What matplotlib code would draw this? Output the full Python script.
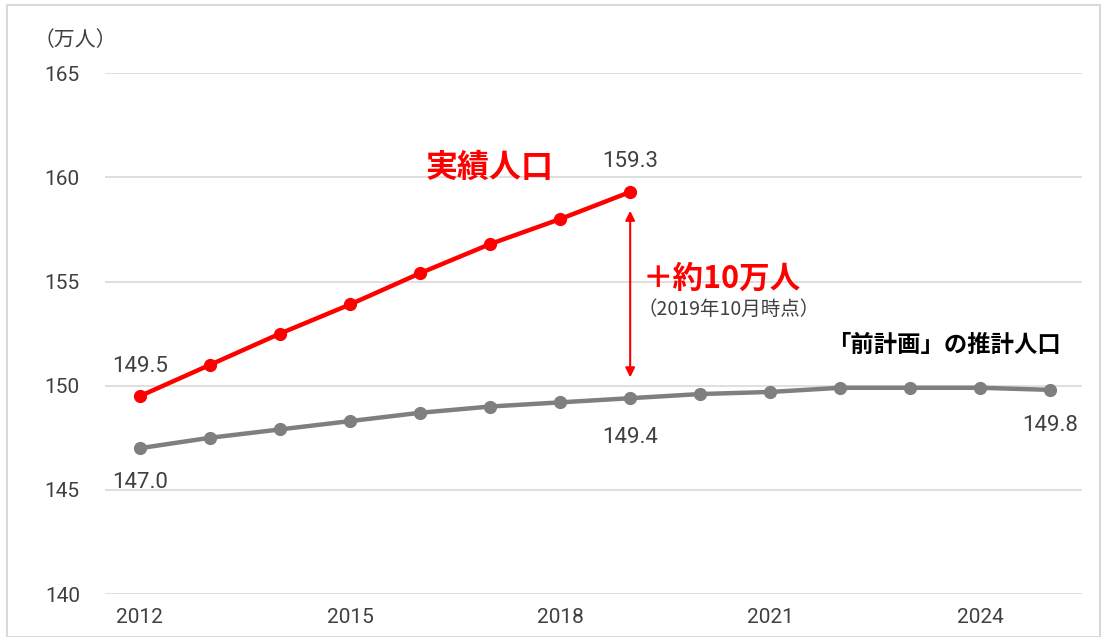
import matplotlib
matplotlib.use("Agg")
import matplotlib.pyplot as plt
from matplotlib.patches import Rectangle

plt.rcParams['font.family'] = ['Noto Sans CJK JP', 'DejaVu Sans']

years_actual = [2012, 2013, 2014, 2015, 2016, 2017, 2018, 2019]
actual = [149.5, 151.0, 152.5, 153.9, 155.4, 156.8, 158.0, 159.3]

years_plan = list(range(2012, 2026))
plan = [147.0, 147.5, 147.9, 148.3, 148.7, 149.0, 149.2, 149.4,
        149.6, 149.7, 149.9, 149.9, 149.9, 149.8]

xticks = [2012, 2015, 2018, 2021, 2024]
yticks = [140, 145, 150, 155, 160, 165]

red = '#ff0000'
gray = '#7f7f7f'
txt = '#404040'
num_font = ['Roboto', 'DejaVu Sans']

fig = plt.figure(figsize=(11.04, 6.37), dpi=100)
fig.patches.append(Rectangle((0.006, 0.0), 0.99, 0.992, transform=fig.transFigure,
                             fill=False, edgecolor='#d9d9d9', linewidth=1.5))
ax = fig.add_axes([0.095, 0.0675, 0.885, 0.8175])

ax.plot(years_plan, plan, color=gray, lw=3.2, marker='o', ms=8.5, zorder=3)
ax.plot(years_actual, actual, color=red, lw=3.2, marker='o', ms=8.5, zorder=4)

ax.set_xlim(2011.5, 2025.45)
ax.set_ylim(140, 165)
ax.set_xticks(xticks)
ax.set_yticks(yticks)
ax.grid(axis='y', color='#d9d9d9', lw=1.2)
ax.set_axisbelow(True)
for s in ax.spines.values():
    s.set_visible(False)
ax.tick_params(length=0, labelsize=15, colors='#404040')
ax.tick_params(axis='x', pad=10)
ax.tick_params(axis='y', pad=18)
for lab in ax.get_xticklabels() + ax.get_yticklabels():
    lab.set_family(num_font)

# data labels
def label(x, y, dy):
    ax.annotate(f'{y:.1f}', xy=(x, y), xytext=(0, dy), textcoords='offset points',
                ha='center', va='center', fontsize=16, color=txt, family=num_font)

label(years_actual[0], actual[0], 21)
label(years_actual[-1], actual[-1], 22)
label(years_plan[0], plan[0], -25)
label(years_plan[7], plan[7], -28)
label(years_plan[-1], plan[-1], -26)

ax.text(2017.0, 160.45, '実績人口', ha='center', va='center', fontsize=23,
        fontweight='bold', color=red)
ax.annotate('', xy=(2019, 150.4), xytext=(2019, 158.4),
            arrowprops=dict(arrowstyle='<|-|>', color=red, lw=1.5,
                            mutation_scale=14, shrinkA=0, shrinkB=0))
ax.text(2019.17, 155.15, '＋約10万人', ha='left', va='center', fontsize=22,
        fontweight='bold', color=red)
ax.text(2019.1, 153.65, '（2019年10月時点）', ha='left', va='center', fontsize=14, color=txt)
ax.text(2025.15, 151.95, '「前計画」の推計人口', ha='right', va='center', fontsize=16.8,
        fontweight='bold', color='#000000')

fig.text(0.03, 0.937, '（万人）', ha='left', va='center', fontsize=15, color=txt)

fig.savefig('out.png', dpi=100)
